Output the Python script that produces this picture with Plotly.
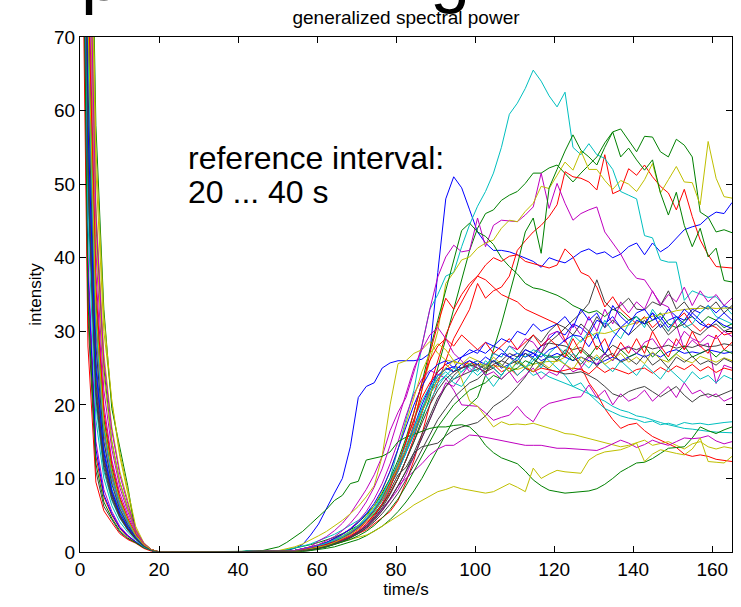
import numpy as np
import plotly.graph_objects as go

# time axis: 83 samples spanning 0 .. 165 s
t = np.linspace(0, 165, 83)
x_ticks = [0, 20, 40, 60, 80, 100, 120, 140, 160]
y_ticks = [0, 10, 20, 30, 40, 50, 60, 70]

# samples t=22..38 s (all traces are zero in this stretch)
zero_interval = [0, 0, 0, 0, 0, 0, 0, 0, 0]

# ---- decay part, t = 0..20 s (11 samples) ----
b1_decay = [180, 60, 26, 14, 8.5, 5.5, 3.5, 2, 0.9, 0.3, 0]
g1_decay = [220, 95, 45, 25, 15, 9.5, 6, 3, 1.2, 0.3, 0]
r1_decay = [170, 56, 24, 13, 8, 5, 3.2, 1.9, 0.8, 0.2, 0]
c1_decay = [150, 48, 20, 11, 7, 4.6, 3, 1.8, 0.8, 0.2, 0]
m1_decay = [140, 40, 15, 8.5, 5.5, 3.5, 2.3, 1.4, 0.7, 0.2, 0]
y1_decay = [240, 105, 52, 30, 20.5, 13, 8, 3.2, 1.2, 0.3, 0]
k1_decay = [120, 32, 11, 6.2, 4.4, 2.7, 1.8, 1.3, 0.6, 0.2, 0]
b2_decay = [160, 52, 22, 12.5, 7.8, 5, 3.2, 1.8, 0.8, 0.2, 0]
g2_decay = [190, 70, 32, 17, 10.5, 6.5, 4.2, 2.2, 1, 0.3, 0]
r2_decay = [190, 70, 32, 17, 10.5, 6.5, 4.2, 2.2, 1, 0.3, 0]
c2_decay = [175, 62, 28, 15, 9.5, 6, 3.8, 2.1, 0.9, 0.2, 0]
m2_decay = [210, 88, 41, 22, 14, 8.8, 5.5, 2.8, 1.1, 0.3, 0]
y2_decay = [230, 98, 47, 27, 17, 11, 7, 3, 1.2, 0.3, 0]
k2_decay = [155, 50, 21, 11.5, 7.2, 4.7, 3, 1.7, 0.7, 0.2, 0]
b3_decay = [200, 75, 34, 18, 11, 7, 4.4, 2.3, 1, 0.3, 0]
g3_decay = [260, 118, 58, 33, 19.5, 14, 9, 2.5, 1, 0.3, 0]
r3_decay = [130, 36, 13, 7.5, 5, 3.2, 2.1, 1.4, 0.6, 0.2, 0]
c3_decay = [165, 57, 25, 13.5, 8.5, 5.5, 3.5, 2, 0.9, 0.2, 0]
m3_decay = [185, 66, 30, 16, 10, 6.3, 4, 2.1, 0.9, 0.2, 0]
y3_decay = [250, 112, 55, 32, 20.5, 13.5, 8.5, 3.5, 1.3, 0.3, 0]
k3_decay = [175, 63, 28, 15, 9.2, 5.8, 3.7, 2, 0.9, 0.2, 0]
b4_decay = [135, 38, 14, 7.8, 5.2, 3.3, 2.2, 1.4, 0.6, 0.2, 0]
g4_decay = [195, 74, 34, 18, 11.5, 7.2, 4.5, 2.3, 1, 0.3, 0]
r4_decay = [110, 28, 9.5, 5.6, 4, 2.5, 1.7, 1.2, 0.5, 0.1, 0]
c4_decay = [185, 68, 31, 16.5, 10.2, 6.5, 4.1, 2.2, 0.9, 0.2, 0]
m4_decay = [205, 82, 38, 20, 12.5, 8, 5, 2.6, 1.1, 0.3, 0]
y4_decay = [215, 90, 43, 24, 15, 9.5, 6, 2.9, 1.1, 0.3, 0]
k4_decay = [165, 54, 23, 12.5, 7.8, 5, 3.2, 1.8, 0.8, 0.2, 0]
b5_decay = [170, 58, 25, 13.5, 8.3, 5.3, 3.4, 1.9, 0.8, 0.2, 0]
g5_decay = [125, 34, 12, 6.8, 4.6, 2.9, 1.9, 1.3, 0.6, 0.2, 0]
r5_decay = [200, 78, 36, 19, 12, 7.5, 4.6, 2.4, 1, 0.3, 0]
c5_decay = [145, 45, 18, 10, 6.3, 4.1, 2.7, 1.6, 0.7, 0.2, 0]
m5_decay = [225, 96, 46, 26, 16.5, 10.5, 6.6, 3, 1.2, 0.3, 0]
y5_decay = [195, 72, 33, 17.5, 11, 7, 4.4, 2.3, 1, 0.3, 0]
k5_decay = [160, 51, 21.5, 12, 7.5, 4.8, 3.1, 1.8, 0.8, 0.2, 0]

# ---- rise part, t = 40..165 s (63 samples) ----
b1_rise = [0, 0, 0, 0, 0, 0, 0.2, 0.5, 1, 2.3,
           3.8, 6, 8, 10, 14.3, 21, 22.5, 23, 25, 25.7,
           26, 26, 26, 26.2, 27, 38, 48, 51, 49.5, 46.5,
           43.5, 42, 41, 41, 40.8, 40.4, 40, 39.5, 38.7, 40,
           39.6, 39.3, 40, 40.8, 41.2, 40.5, 40.8, 40, 40.5, 41.5,
           42, 40.4, 42, 40.8, 41.5, 42.7, 43.8, 44.2, 44.5, 45.5,
           46.2, 46, 47.5]
g1_rise = [0, 0, 0, 0, 0, 0.1, 0.3, 0.5, 0.8, 1,
           1.3, 1.6, 2, 2.5, 3, 3.6, 4.3, 5.2, 6.5, 8,
           10, 12.5, 15, 18, 21, 25, 29, 33, 37, 41,
           44, 46, 46.5, 47.8, 48.5, 49, 50.1, 51.5, 51.5, 52.2,
           52.6, 51.5, 50.3, 51.5, 52.6, 53.7, 55.6, 57.1, 57.5, 56,
           54.4, 56.5, 56.4, 54.4, 53.7, 56.1, 55.3, 53.7, 46.2, 45.5,
           43.5, 43.8, 43.4]
r1_rise = [0, 0, 0, 0, 0, 0, 0.1, 0.2, 0.4, 0.6,
           0.8, 1, 1.3, 1.6, 2, 2.5, 3, 3.8, 4.6, 5.5,
           7, 9.5, 12.5, 16, 20, 23, 26, 29, 31, 33,
           36.5, 34.5, 35.5, 36, 37.5, 41, 42.3, 43.5, 44.4, 45.6,
           47.2, 51.7, 51, 50.8, 50.3, 49.2, 54, 48.7, 49.2, 52.1,
           51.2, 52.6, 51, 49.7, 48.8, 46.5, 49.3, 45.6, 42.4, 40.4,
           38.8, 38.7, 38.6]
c1_rise = [0, 0.2, 0.1, 0, 0, 0.1, 0.3, 0.5, 0.8, 1.1,
           1.5, 1.9, 2.4, 3, 3.6, 4.3, 5.2, 6.3, 7.8, 10,
           14, 18, 22, 28, 33, 35, 37.5, 38, 41.5, 44.5,
           47, 49, 51.5, 55, 59.5, 61, 63, 65.5, 64, 62,
           60.5, 62.5, 55, 54, 55.5, 54, 53.5, 52, 49, 48.5,
           48, 43, 42.7, 39.7, 39.4, 39.4, 34.2, 35.5, 35, 34.6,
           34.7, 33.5, 32.3]
m1_rise = [0, 0, 0, 0, 0, 0, 0.1, 0.2, 0.4, 0.7,
           1.5, 2.1, 2.9, 3.9, 5.2, 6.8, 8.5, 10.5, 13, 16.5,
           19, 21, 24.5, 28, 33, 37.4, 40.1, 41.7, 40.8, 41,
           45.4, 41.5, 44.4, 45.1, 45, 44.9, 45.8, 46.9, 51.5, 46.7,
           50.1, 47.4, 45.1, 46, 46.5, 46.9, 43.5, 42, 40.5, 38.5,
           37.2, 37, 35.4, 33.8, 33.3, 30.9, 27.5, 28.8, 27.9, 28.4,
           22.9, 25.4, 25]
y1_rise = [0, 0, 0, 0, 0, 0, 0.1, 0.2, 0.4, 0.7,
           1, 1.3, 1.7, 2.2, 2.8, 3.5, 4.5, 5.8, 7.5, 9.5,
           12, 15, 18, 22, 26, 30, 36.5, 38, 39.7, 40.1,
           41.3, 42, 42.4, 44, 45.1, 44.9, 46.3, 47.4, 49.7, 49.4,
           51.2, 53, 51.9, 54.5, 52, 52, 50.5, 49.3, 50.5, 50,
           49, 50.6, 52.8, 48.8, 50.6, 52.4, 50.3, 50.2, 47.2, 55.8,
           50.8, 48.3, 48.1]
k1_rise = [0, 0, 0, 0, 0, 0, 0, 0.1, 0.2, 0.4,
           0.6, 0.9, 1.2, 1.6, 2.1, 2.7, 3.5, 4.5, 5.8, 7.2,
           9, 11, 13.5, 16, 18.5, 21, 22.5, 23.5, 24, 24.5,
           24.8, 25.5, 25, 26, 25.5, 26.5, 27.5, 27, 28, 28.4,
           28.2, 28, 27.5, 27.8, 26.8, 26.1, 27, 28.1, 27.5, 27.8,
           27.5, 28, 27.6, 27.9, 28.1, 27.7, 28, 27.8, 28.2, 27.9,
           28, 28.3, 28.1]
b2_rise = [0, 0, 0, 0, 0, 0, 0.1, 0.2, 0.3, 0.5,
           0.8, 1.1, 1.5, 2, 2.6, 3.4, 4.4, 5.6, 7, 9,
           11, 13.5, 16, 19, 22, 24, 24.8, 25.2, 25, 25.5,
           26, 25.5, 26, 25, 25.5, 26.5, 27, 26.5, 28, 29,
           30, 29.5, 31, 30.5, 29.5, 31.5, 31, 32, 30.5, 31.5,
           32, 31, 32.5, 31.5, 33, 32, 31.5, 33, 32.5, 33.5,
           32.5, 33.5, 33]
g2_rise = [0, 0, 0, 0, 0, 0, 0.1, 0.2, 0.4, 0.6,
           0.9, 1.3, 1.8, 2.4, 3.1, 4, 5, 6.3, 8, 10,
           12.5, 15.5, 19, 23, 27.5, 31.5, 35.5, 39.5, 43.7, 44.7,
           43.5, 42.9, 41.8, 40, 38.8, 37.8, 36.5, 35.9, 35.7, 35.3,
           34.9, 34.3, 33.5, 33, 32.5, 32.8, 32, 33, 32.5, 31.5,
           32, 31, 31.5, 32.5, 31, 30.5, 31.5, 32, 31, 32,
           31.5, 30.5, 31]
r2_rise = [0, 0, 0, 0, 0, 0, 0, 0.1, 0.2, 0.4,
           0.6, 0.9, 1.3, 1.8, 2.4, 3.1, 4, 5, 6.3, 8,
           10, 12.5, 15.5, 19, 22.5, 26, 29.5, 32, 34, 36,
           37.5, 39, 40, 39.5, 40.2, 40.4, 39.5, 39.2, 39, 38.6,
           39, 41.2, 40.1, 38, 37.5, 36, 33.3, 34.7, 33, 32,
           31, 32, 30.5, 31.5, 30, 31.5, 32.5, 31, 30, 31,
           30.5, 29.5, 29.8]
c2_rise = [0, 0, 0, 0, 0, 0, 0.1, 0.2, 0.3, 0.5,
           0.7, 1, 1.4, 1.9, 2.5, 3.2, 4.2, 5.4, 7, 9,
           11, 13.5, 16.5, 19.5, 22, 24, 25, 24.5, 25.5, 25,
           24, 25, 26, 25.5, 24.5, 25.8, 25, 24, 24.5, 23.8,
           23.4, 23, 22.5, 22, 21.5, 21, 20.5, 19.8, 19.3, 19,
           18.5, 18.3, 17.9, 17.6, 17.3, 17, 16.8, 16.7, 16.5, 16.4,
           16.3, 16.2, 16.2]
m2_rise = [0, 0, 0, 0, 0, 0, 0, 0.1, 0.2, 0.4,
           0.6, 0.8, 1.1, 1.5, 2, 2.6, 3.4, 4.4, 5.6, 7,
           8.5, 10.5, 13, 15.5, 18, 20.5, 23, 22.5, 24, 25.5,
           26, 25, 27, 26.5, 28, 27.5, 29, 28.5, 27, 29.5,
           30, 28.5, 31, 29.5, 32, 30, 33, 31, 34, 32.5,
           34, 33, 35.5, 33.5, 35, 34, 36, 33.5, 35.5, 34,
           35, 33.5, 34.5]
y2_rise = [0, 0, 0, 0, 0.1, 0.2, 0.4, 0.7, 1.1, 1.6,
           2.2, 2.8, 3.5, 4.3, 5.2, 6.2, 7.5, 9, 13, 20,
           25.6, 26, 27, 27.5, 28.6, 27, 26.1, 25.8, 25.6, 25.6,
           25.5, 25.4, 25.3, 25.2, 25, 24.8, 25.2, 25.5, 25.8, 25.9,
           25.9, 26.5, 27.5, 28.8, 29.3, 29.8, 29.7, 30, 30.5, 30.8,
           31.2, 31.8, 32, 32.2, 32.5, 32.8, 33, 33.1, 33.1, 33.2,
           33.1, 33.2, 33.2]
k2_rise = [0, 0, 0, 0, 0, 0, 0, 0, 0.1, 0.2,
           0.5, 0.8, 1.1, 1.5, 2, 2.7, 3.6, 4.8, 6.3, 8.3,
           10.5, 11.5, 13.5, 14.3, 14.6, 14.8, 15.8, 16.6, 17, 17.3,
           17.6, 18.5, 19.8, 20.5, 21.3, 22.5, 23.8, 25.5, 27, 28.5,
           29.4, 30.5, 31.5, 32.5, 33.8, 37, 34, 32.9, 33.5, 34.5,
           33, 32.9, 34, 33.5, 35.5, 33, 34, 32.5, 33.5, 33,
           34, 32.5, 33.5]
b3_rise = [0, 0, 0, 0, 0, 0, 0.1, 0.2, 0.3, 0.5,
           0.7, 1, 1.4, 1.9, 2.5, 3.3, 4.3, 5.5, 7, 9,
           11.5, 14, 17, 20, 22.5, 24.5, 25.5, 26, 26.5, 27,
           27.5, 27, 28, 27.5, 26.5, 27, 26.5, 27, 26, 26.5,
           27, 26.5, 26, 26.5, 26, 25.5, 26, 26.5, 26, 26.5,
           27, 26.5, 27, 26.5, 27.2, 27.5, 27, 27.2, 27, 27.5,
           27.2, 27, 27.2]
g3_rise = [0, 0, 0, 0, 0, 0, 0, 0, 0.1, 0.2,
           0.3, 0.5, 0.7, 1, 1.3, 1.7, 2.2, 2.8, 3.5, 4.4,
           5.5, 6.8, 8.3, 10, 12, 14, 16, 18, 19, 20,
           21, 24, 27.5, 31, 35, 39, 43.5, 45.4, 40.6, 49.5,
           52, 54.5, 56.7, 54.6, 53.7, 52.6, 55, 57.1, 53.7, 54.9,
           53.3, 51.9, 53.3, 48.8, 45.8, 48.9, 44.4, 41.5, 44, 40.1,
           41.3, 36.9, 36.7]
r3_rise = [0, 0, 0, 0, 0, 0, 0.1, 0.2, 0.3, 0.5,
           0.8, 1.1, 1.5, 2, 2.6, 3.4, 4.4, 5.6, 7.2, 9,
           11, 14, 17.5, 22, 27, 31, 34.5, 33, 35, 36.5,
           37.5, 37, 36, 35, 34.5, 34, 33, 32.5, 32, 31.5,
           31, 28.8, 27, 25.2, 23, 21.5, 19.5, 18, 16.8, 17.3,
           17.5, 16.5, 15.7, 15.2, 14.6, 14.2, 13.3, 13, 13.2, 13,
           12.6, 12.4, 12.3]
c3_rise = [0, 0, 0, 0, 0, 0, 0.1, 0.2, 0.4, 0.6,
           0.9, 1.2, 1.6, 2.1, 2.7, 3.5, 4.5, 5.8, 7.4, 9.5,
           12, 15, 18, 20.5, 22.5, 23.5, 24.5, 23.5, 24.5, 25.5,
           26, 25, 27, 26.5, 28, 27, 26.5, 27.5, 27, 26,
           25, 24, 22.5, 23, 21.5, 20.5, 19.5, 19, 18.5, 18.2,
           18, 17.6, 17.8, 17.3, 17.5, 17.2, 17.6, 17.4, 17.5, 17.3,
           17.5, 17.6, 17.7]
m3_rise = [0, 0, 0, 0, 0, 0, 0.1, 0.2, 0.4, 0.6,
           0.9, 1.3, 1.8, 2.4, 3.2, 4.2, 5.5, 7.2, 9.3, 12,
           15, 18.5, 21.5, 23.5, 24.7, 24.2, 23.6, 22, 20, 19.9,
           19.8, 18.9, 17.9, 18.3, 18.6, 19.8, 18.5, 17.7, 19.5, 20.2,
           20.5, 20.7, 21, 21.1, 22.7, 21, 22, 20, 21.5, 20.5,
           21, 22, 20.5, 21.5, 22.5, 21, 23, 21.5, 22, 21,
           21.5, 20.5, 21]
y3_rise = [0, 0, 0, 0, 0, 0, 0.1, 0.2, 0.3, 0.5,
           0.8, 1.1, 1.5, 2, 2.7, 3.6, 4.8, 6.3, 8.3, 11,
           14, 17.5, 21, 24.5, 27, 28.3, 27.5, 26, 23.5, 20.5,
           19.8, 18.4, 17, 17.7, 17.3, 17.4, 17.3, 17.5, 17.2, 16.8,
           16.5, 16.1, 16, 15.7, 15.4, 15.1, 14.8, 14.6, 14.3, 14.5,
           14.8, 15.2, 14.5, 14.8, 15, 14.5, 14, 14.7, 15, 14.3,
           14, 14.3, 14.1]
k3_rise = [0, 0, 0, 0, 0, 0, 0, 0.1, 0.2, 0.3,
           0.5, 0.7, 1, 1.4, 1.9, 2.5, 3.2, 4.1, 5.2, 6.5,
           8, 9.8, 11.8, 14, 16, 18, 19.5, 21, 22, 23,
           23.5, 24.5, 25, 24, 25.5, 26, 25, 24.5, 25.5, 24.8,
           24.5, 24.2, 24.3, 24.5, 24, 23.4, 22.5, 21.5, 21.1, 21.8,
           22.2, 22.5, 21.8, 21.1, 21.8, 22.5, 21.3, 20.4, 21.2, 21.5,
           21.1, 21.5, 22]
b4_rise = [0, 0, 0, 0, 0, 0, 0.1, 0.2, 0.4, 0.6,
           0.9, 1.3, 1.8, 2.4, 3.1, 4, 5.2, 6.6, 8.5, 11,
           14, 17, 20, 22.5, 24.5, 25.5, 26, 25, 26.5, 27.5,
           27, 28.5, 28, 29, 28.5, 30, 29.5, 31, 30, 30.5,
           31, 32, 30.5, 33, 31.5, 32.5, 30.5, 33.5, 32, 31,
           32.5, 33, 31.5, 32, 30.5, 31.5, 33, 32, 31, 30.5,
           31.5, 30.8, 30.4]
g4_rise = [0, 0, 0.1, 0.2, 0.4, 0.7, 1.3, 2, 2.8, 3.8,
           4.8, 5.8, 7, 7.7, 9.3, 9.6, 12.5, 12.7, 13, 13.6,
           15, 15.6, 16, 16.4, 16.8, 17, 17, 17.2, 17.3, 17,
           16, 14.5, 13.5, 12.8, 12.4, 12, 11, 9.8, 9, 8.4,
           8.2, 8, 8.1, 8.2, 8.3, 8.6, 9.2, 10, 10.9, 11.5,
           12.1, 12.2, 12.7, 13.4, 14.1, 14.2, 14.3, 15.5, 17, 16.5,
           16.1, 16.6, 17]
r4_rise = [0, 0, 0, 0, 0, 0, 0.1, 0.2, 0.3, 0.5,
           0.7, 1, 1.4, 1.9, 2.5, 3.3, 4.3, 5.6, 7.2, 9.5,
           12, 15, 18, 21, 23, 24.5, 25.5, 24.5, 25, 26,
           25, 24.5, 25.5, 24.5, 25, 24, 25, 24.5, 25, 24.7,
           24.5, 24.7, 25, 24.8, 24.2, 25.2, 24.4, 25, 24.6, 24.2,
           24.8, 25, 24.3, 25.1, 24.5, 25.3, 24.8, 25.5, 24.6, 25.2,
           24.4, 25, 24.7]
c4_rise = [0, 0, 0, 0, 0, 0, 0.1, 0.2, 0.3, 0.5,
           0.7, 1, 1.4, 1.9, 2.5, 3.3, 4.3, 5.5, 7, 9,
           11, 13.5, 16, 18.5, 20.5, 22.5, 24, 23, 22.5, 24,
           25.5, 24, 22.5, 24, 25.5, 24, 25, 26.5, 25, 27,
           28, 27, 29.5, 28.5, 30, 29, 31.5, 30, 29, 31,
           32, 30.5, 33, 31.5, 30, 32, 30.5, 31, 32.5, 33.5,
           32, 31.5, 31]
m4_rise = [0, 0, 0, 0, 0, 0, 0.1, 0.2, 0.3, 0.5,
           0.7, 1, 1.3, 1.7, 2.2, 2.8, 3.6, 4.6, 5.8, 7.2,
           9, 10, 11, 12, 13.2, 14, 14.5, 14.5, 15.2, 15.9,
           15.8, 15.6, 15.4, 15.2, 15, 14.8, 14.5, 14.5, 14.5, 14.3,
           14.1, 14.1, 14, 14, 13.9, 13.8, 14.2, 14.7, 15.2, 14.8,
           14.2, 14.6, 15.2, 14.8, 14.5, 15, 15.5, 15.4, 15.5, 15.8,
           15.1, 14.7, 15]
y4_rise = [0, 0, 0, 0, 0, 0, 0.1, 0.2, 0.3, 0.4,
           0.6, 0.8, 1.1, 1.4, 1.7, 2, 2.3, 2.8, 3.5, 4.2,
           4.8, 5.6, 6.4, 7, 7.6, 8.2, 8.5, 8.9, 8.6, 8.4,
           8.2, 8, 8.2, 8.7, 9.3, 8.8, 8.2, 11.4, 10, 10.6,
           11.1, 10.9, 10.8, 10.7, 12.5, 13.2, 13.6, 13.8, 13.9, 14.3,
           14.8, 12.3, 13.3, 13.9, 13.6, 13.4, 13.2, 14, 15.5, 12.3,
           12.2, 12.1, 13]
k4_rise = [0, 0, 0, 0, 0, 0, 0, 0.1, 0.2, 0.3,
           0.5, 0.7, 1, 1.4, 1.9, 2.5, 3.3, 4.3, 5.6, 7.2,
           9, 11, 13, 15.5, 18, 20.5, 22.5, 24, 25, 25.5,
           25, 24.5, 25.5, 26, 27, 26.5, 28, 29.5, 28.5, 30,
           31, 30.5, 29.5, 31, 30, 32, 30.5, 31.5, 30.5, 29.5,
           30.5, 31.5, 30, 31, 29.5, 30.5, 31, 30, 29.5, 30.5,
           31, 30, 30.5]
b5_rise = [0, 0, 0, 0, 0, 0, 0.1, 0.2, 0.3, 0.5,
           0.7, 1, 1.4, 1.9, 2.5, 3.3, 4.3, 5.6, 7.2, 9.2,
           11.5, 14, 16.5, 19, 21.5, 23.5, 25, 24.5, 25.5, 26,
           25.5, 26.5, 25.8, 27, 26.5, 26, 27.5, 27, 26.5, 27.5,
           27.9, 28.8, 29.5, 29.3, 27.9, 29.7, 26.8, 29, 30.5, 29.5,
           31.5, 31, 32.5, 30.5, 31.5, 32, 31, 32.5, 31.5, 30.5,
           31.5, 32.5, 31.5]
g5_rise = [0, 0, 0, 0, 0, 0, 0, 0.1, 0.2, 0.3,
           0.5, 0.7, 1, 1.3, 1.7, 2.2, 2.8, 3.6, 4.6, 5.8,
           7.2, 9, 11, 13, 15, 17, 18.5, 20, 21, 22,
           22.5, 23, 24, 23.5, 24.5, 25, 26, 25.5, 27, 26.5,
           26.5, 27, 26, 27.5, 26.5, 28, 27, 26, 27.5, 26.5,
           27, 28, 26.5, 27.5, 26, 27, 28, 26.5, 27, 27.5,
           26.5, 27.5, 27]
r5_rise = [0, 0, 0, 0, 0, 0, 0.1, 0.2, 0.3, 0.5,
           0.7, 1, 1.3, 1.7, 2.2, 2.9, 3.8, 5, 6.6, 8.7,
           11.5, 15, 19, 23, 26, 28, 29, 28, 29.5, 28.5,
           27.5, 28.5, 27, 28, 29, 27.5, 28.5, 29.5, 28, 29,
           28, 26.5, 29, 27, 30, 27.5, 29, 26.5, 28.5, 27,
           29, 27, 30, 28, 26.5, 29, 27.5, 30, 28, 27,
           29.5, 27.5, 28.5]
c5_rise = [0, 0, 0, 0, 0, 0, 0.1, 0.2, 0.4, 0.6,
           0.9, 1.2, 1.6, 2.1, 2.8, 3.6, 4.7, 6, 7.7, 9.8,
           12, 14.5, 17, 19.5, 21.5, 23, 24, 25, 24.5, 25.5,
           24.5, 26, 25, 24, 25.5, 26.5, 25, 26, 27, 26.5,
           26.5, 25.5, 27, 26, 25, 26.5, 25.5, 24.5, 26, 25,
           24, 25.5, 24.5, 23.5, 25, 24, 23, 24.5, 23.5, 24,
           23, 24, 23.5]
m5_rise = [0, 0, 0, 0, 0, 0, 0.1, 0.2, 0.4, 0.7,
           1, 1.5, 2.1, 2.9, 3.9, 5.2, 6.8, 8.8, 11.3, 14.5,
           18, 21.5, 25, 27.5, 29.5, 30.5, 29, 27, 26, 24.5,
           25.5, 24, 24.5, 23.5, 24.5, 23, 24, 25, 23.5, 24.5,
           24, 25.5, 24.5, 25, 26.5, 25.5, 27, 26, 27.5, 28,
           27, 28.5, 29, 27.5, 29, 28, 30, 29, 28.5, 29.5,
           29, 30, 29.3]
y5_rise = [0, 0, 0, 0, 0, 0, 0, 0.1, 0.2, 0.4,
           0.6, 0.9, 1.3, 1.8, 2.4, 3.2, 4.2, 5.5, 7.1, 9.2,
           11.5, 14, 16.5, 19, 21.5, 23.5, 25, 26, 25.5, 26.5,
           26, 25, 26.5, 25.5, 24.5, 26, 25.2, 24.5, 25.8, 25,
           26.2, 25.5, 24.8, 26.5, 25.8, 26.8, 25.5, 26.2, 27, 25.8,
           26.5, 25.6, 27.2, 26.2, 25.8, 26.9, 26.1, 25.7, 26.6, 26.2,
           25.8, 26.4, 26]
k5_rise = [0, 0, 0, 0, 0, 0, 0, 0.1, 0.2, 0.3,
           0.5, 0.8, 1.1, 1.5, 2, 2.7, 3.5, 4.6, 6, 7.8,
           10, 12.5, 15, 17.5, 20, 22, 23.5, 24.5, 25, 25.3,
           25.5, 24.8, 26, 25.2, 26.5, 25.5, 27, 26.2, 25.5, 26.8,
           26, 27.5, 26.5, 25.5, 26.8, 25.2, 26.5, 27, 25.8, 26.3,
           25.5, 26.8, 25.4, 26.2, 25, 26.5, 25.8, 26.6, 25.5, 26,
           25.4, 26.3, 25.8]

BLUE, GREEN, RED, CYAN, MAGENTA, YELLOW, GRAY = (
    "#0000FF", "#008000", "#FF0000", "#00BFBF", "#BF00BF", "#BFBF00", "#404040")

series = [
    ("b1", b1_decay, b1_rise, BLUE), ("g1", g1_decay, g1_rise, GREEN),
    ("r1", r1_decay, r1_rise, RED), ("c1", c1_decay, c1_rise, CYAN),
    ("m1", m1_decay, m1_rise, MAGENTA), ("y1", y1_decay, y1_rise, YELLOW),
    ("k1", k1_decay, k1_rise, GRAY),
    ("b2", b2_decay, b2_rise, BLUE), ("g2", g2_decay, g2_rise, GREEN),
    ("r2", r2_decay, r2_rise, RED), ("c2", c2_decay, c2_rise, CYAN),
    ("m2", m2_decay, m2_rise, MAGENTA), ("y2", y2_decay, y2_rise, YELLOW),
    ("k2", k2_decay, k2_rise, GRAY),
    ("b3", b3_decay, b3_rise, BLUE), ("g3", g3_decay, g3_rise, GREEN),
    ("r3", r3_decay, r3_rise, RED), ("c3", c3_decay, c3_rise, CYAN),
    ("m3", m3_decay, m3_rise, MAGENTA), ("y3", y3_decay, y3_rise, YELLOW),
    ("k3", k3_decay, k3_rise, GRAY),
    ("b4", b4_decay, b4_rise, BLUE), ("g4", g4_decay, g4_rise, GREEN),
    ("r4", r4_decay, r4_rise, RED), ("c4", c4_decay, c4_rise, CYAN),
    ("m4", m4_decay, m4_rise, MAGENTA), ("y4", y4_decay, y4_rise, YELLOW),
    ("k4", k4_decay, k4_rise, GRAY),
    ("b5", b5_decay, b5_rise, BLUE), ("g5", g5_decay, g5_rise, GREEN),
    ("r5", r5_decay, r5_rise, RED), ("c5", c5_decay, c5_rise, CYAN),
    ("m5", m5_decay, m5_rise, MAGENTA), ("y5", y5_decay, y5_rise, YELLOW),
    ("k5", k5_decay, k5_rise, GRAY),
]

FONT = "Liberation Sans, Arial, Helvetica, sans-serif"

fig = go.Figure()
bad = []
for name, dec, rise, col in series:
    yv = list(dec) + zero_interval + list(rise)
    if len(yv) != len(t):
        bad.append((name, len(dec), len(rise)))
        continue
    fig.add_trace(go.Scatter(x=t, y=yv, mode="lines", name=name,
                             line=dict(color=col, width=1), showlegend=False,
                             hoverinfo="skip"))
if bad:
    raise ValueError(f"length mismatch: {bad}")

fig.add_annotation(x=26.8, y=53.6, xref="x", yref="y", text="reference interval:",
                   showarrow=False, xanchor="left", yanchor="middle",
                   font=dict(family=FONT, size=32, color="black"))
fig.add_annotation(x=26.8, y=48.9, xref="x", yref="y", text="20 ... 40 s",
                   showarrow=False, xanchor="left", yanchor="middle",
                   font=dict(family=FONT, size=32, color="black"))

# lower parts of a large heading that lies above the figure's top edge
fig.add_annotation(x=-1 / 652, y=(552 - 17) / 515, xref="paper", yref="paper", text="p",
                   showarrow=False, xanchor="left", yanchor="bottom",
                   font=dict(family=FONT, size=72, color="black"))
fig.add_annotation(x=(428 - 80) / 652, y=(552 - 16) / 515, xref="paper", yref="paper",
                   text="g", showarrow=False, xanchor="left", yanchor="bottom",
                   font=dict(family=FONT, size=72, color="black"))

axis_common = dict(showgrid=False, zeroline=False, showline=True, linecolor="black",
                   linewidth=1, ticks="inside", ticklen=6, tickcolor="black",
                   mirror="allticks", automargin=False,
                   tickfont=dict(family=FONT, size=19, color="black"))

fig.update_xaxes(range=[0, 165], tickvals=x_ticks,
                 title=dict(text="time/s", font=dict(family=FONT, size=17, color="black"),
                            standoff=4),
                 **axis_common)
fig.update_yaxes(range=[0, 70], tickvals=y_ticks,
                 title=dict(text="intensity", font=dict(family=FONT, size=17, color="black"),
                            standoff=8),
                 **axis_common)

fig.update_layout(
    width=741, height=607,
    margin=dict(l=80, r=9, t=37, b=55, autoexpand=False),
    paper_bgcolor="white", plot_bgcolor="white",
    title=dict(text="generalized spectral power", x=406 / 741, xanchor="center",
               y=1 - 17 / 607, yanchor="middle", yref="container",
               font=dict(family=FONT, size=19, color="black")),
    showlegend=False,
)

fig.write_html("out.html", config={"displayModeBar": False},
               post_script="document.body.style.margin='0px';")
